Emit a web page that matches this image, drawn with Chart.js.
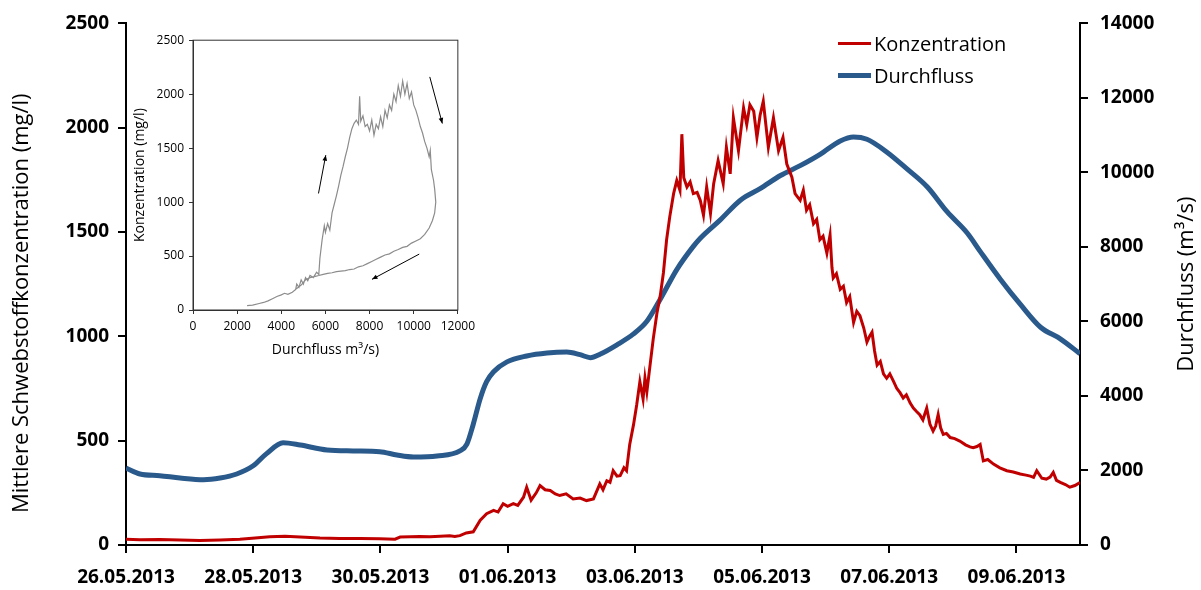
<!DOCTYPE html>
<html>
<head>
<meta charset="utf-8">
<script src="https://cdn.jsdelivr.net/npm/chart.js@4.4.0/dist/chart.umd.min.js"></script>
<style>
  body { margin: 0; background: #fff; }
  #wrap { position: relative; width: 1201px; height: 590px; }
  #mainChart { position: absolute; left: 0; top: 0; }
  #insetChart { position: absolute; left: 130px; top: 28px; }
  #legend { position: absolute; left: 838px; top: 27px; font-family: 'Open Sans', sans-serif; font-size: 20px; color: #000; }
  .item { display: flex; align-items: center; height: 32px; }
  .swatch { width: 33px; margin-right: 3px; }
</style>
</head>
<body>
<div id="wrap">
  <canvas id="mainChart" width="1201" height="590"></canvas>
  <canvas id="insetChart" width="350" height="335"></canvas>
  <div id="legend"></div>
</div>
<script>
// days since 26.05.2013 00:00
const concDays = [0, 0.22, 0.53, 0.85, 1.16, 1.48, 1.79, 2.03, 2.26, 2.5,
  2.74, 3.05, 3.36, 3.68, 3.99, 4.23, 4.31, 4.47, 4.62, 4.78,
  4.94, 5.09, 5.17, 5.25, 5.35, 5.46, 5.57, 5.67, 5.78, 5.85,
  5.93, 6.0, 6.09, 6.16, 6.25, 6.3, 6.37, 6.45, 6.51, 6.59,
  6.67, 6.75, 6.82, 6.92, 7.03, 7.14, 7.24, 7.35, 7.45, 7.5,
  7.56, 7.61, 7.66, 7.72, 7.77, 7.83, 7.87, 7.92, 7.98, 8.03,
  8.08, 8.13, 8.16, 8.19, 8.24, 8.29, 8.35, 8.4, 8.45, 8.5,
  8.55, 8.61, 8.66, 8.71, 8.74, 8.77, 8.82, 8.87, 8.92, 8.98,
  9.03, 9.08, 9.13, 9.19, 9.24, 9.31, 9.39, 9.44, 9.5, 9.55,
  9.63, 9.71, 9.76, 9.81, 9.87, 9.92, 9.97, 10.02, 10.1, 10.18,
  10.26, 10.33, 10.39, 10.47, 10.52, 10.6, 10.65, 10.7, 10.75, 10.81,
  10.86, 10.91, 10.96, 11.02, 11.07, 11.1, 11.12, 11.17, 11.23, 11.28,
  11.33, 11.38, 11.44, 11.49, 11.54, 11.6, 11.65, 11.69, 11.73, 11.77,
  11.81, 11.86, 11.91, 11.96, 12.01, 12.07, 12.12, 12.17, 12.22, 12.27,
  12.33, 12.38, 12.43, 12.48, 12.53, 12.59, 12.64, 12.69, 12.73, 12.77,
  12.81, 12.85, 12.9, 12.96, 13.03, 13.11, 13.2, 13.27, 13.32, 13.38,
  13.43, 13.48, 13.55, 13.64, 13.74, 13.85, 13.95, 14.06, 14.15, 14.22,
  14.27, 14.32, 14.4, 14.47, 14.53, 14.58, 14.63, 14.69, 14.77, 14.84,
  14.92, 15.0];
const concValues = [28, 25, 26, 24, 22, 24, 27, 33, 40, 42,
  38, 33, 31, 31, 30, 28, 38, 40, 41, 40,
  42, 44, 41, 45, 58, 63, 119, 150, 166, 158,
  198, 185, 198, 190, 229, 277, 215, 250, 285, 265,
  261, 245, 237, 245, 221, 225, 213, 221, 293, 265,
  308, 300, 356, 330, 332, 370, 356, 482, 577, 672,
  783, 700, 800, 735, 862, 988, 1115, 1194, 1305, 1463,
  1574, 1684, 1747, 1700, 1969, 1760, 1716, 1740, 1684, 1690,
  1652, 1581, 1716, 1589, 1732, 1842, 1732, 1906, 1779, 2048,
  1890, 2095, 2016, 2110, 2079, 1953, 2060, 2127, 1906, 2048,
  1890, 1953, 1826, 1763, 1684, 1652, 1700, 1605, 1630, 1540,
  1560, 1463, 1480, 1399, 1485, 1330, 1280, 1300, 1225, 1240,
  1162, 1190, 1067, 1120, 1099, 1040, 973, 1000, 1020, 930,
  862, 880, 820, 799, 820, 783, 750, 730, 704, 720,
  680, 656, 640, 625, 600, 656, 580, 546, 570, 625,
  560, 530, 535, 515, 510, 498, 480, 470, 466, 472,
  482, 403, 410, 388, 370, 356, 350, 340, 335, 330,
  324, 356, 320, 316, 325, 348, 310, 300, 290, 277,
  285, 300];

const flowDays = [0, 0.22, 0.53, 0.85, 1.22, 1.48, 1.74, 2.0, 2.21, 2.47, 2.74, 3.16, 3.57, 3.99, 4.26, 4.52, 4.89, 5.25, 5.36, 5.46,
  5.57, 5.67, 5.78, 5.99, 6.3, 6.62, 6.93, 7.14, 7.3, 7.46, 7.72, 7.98, 8.19, 8.4, 8.66, 8.92, 9.03, 9.34, 9.66, 9.97,
  10.29, 10.6, 10.92, 11.23, 11.44, 11.65, 11.97, 12.28, 12.6, 12.91, 13.23, 13.43, 13.75, 14.06, 14.38, 14.69, 15.0];
const flowValues = [2064, 1905, 1860, 1798, 1753, 1798, 1905, 2125, 2452, 2744, 2683, 2550, 2524, 2505, 2417, 2364, 2391, 2524, 2710, 3241,
  3932, 4383, 4649, 4915, 5074, 5154, 5180, 5108, 5029, 5127, 5374, 5666, 6004, 6596, 7393, 8015, 8235, 8721, 9253, 9563,
  9917, 10182, 10493, 10846, 10953, 10892, 10538, 10095, 9609, 8945, 8368, 7882, 7127, 6463, 5844, 5534, 5135];

// inset: concentration against discharge
const insetFlow = [2450, 2700, 3000, 3200, 3400, 3600, 3800, 4000, 4150, 4300, 4500, 4650, 4700, 4800, 4900, 5000, 5100, 5200, 5300, 5450,
  5600, 5700, 5750, 5850, 5950, 6000, 6100, 6200, 6300, 6400, 6500, 6600, 6700, 6800, 6900, 7000, 7100, 7200, 7300, 7400,
  7500, 7550, 7600, 7700, 7800, 7900, 8000, 8100, 8200, 8300, 8400, 8500, 8600, 8700, 8800, 8900, 9000, 9100, 9200, 9300,
  9400, 9500, 9600, 9700, 9800, 9900, 10000, 10100, 10200, 10300, 10400, 10500, 10600, 10700, 10750, 10800, 10900, 10950, 11000, 10950,
  10850, 10700, 10500, 10300, 10100, 9900, 9700, 9500, 9300, 9100, 8900, 8700, 8500, 8300, 8100, 7900, 7700, 7500, 7300, 7100,
  6900, 6700, 6500, 6300, 6100, 5900, 5700, 5500, 5300, 5100, 4900, 4700, 4600];
const insetConc = [40, 45, 60, 70, 85, 105, 125, 140, 155, 145, 165, 190, 240, 210, 280, 240, 300, 270, 320, 300,
  350, 330, 480, 650, 780, 720, 800, 740, 900, 980, 1060, 1150, 1250, 1330, 1420, 1500, 1600, 1680, 1730, 1760,
  1720, 1980, 1750, 1800, 1700, 1720, 1660, 1760, 1620, 1720, 1680, 1790, 1700, 1850, 1780, 1900, 1850, 2000, 1930, 2080,
  1980, 2120, 2000, 2100, 1960, 2020, 1900, 1850, 1780, 1700, 1640, 1560, 1500, 1420, 1480, 1300, 1200, 1120, 1000, 900,
  830, 760, 700, 660, 640, 620, 590, 580, 560, 545, 520, 510, 490, 470, 450, 430, 410, 400, 380, 375,
  365, 360, 355, 345, 340, 330, 320, 310, 300, 280, 230, 200, 180];

// inset arrows [flowFrom, concFrom, flowTo, concTo]
const insetArrows = [
  [5686, 1080, 6016, 1435],
  [10728, 2160, 11297, 1728],
  [10250, 518, 8110, 284]
];

const FONT = "'Open Sans', sans-serif";

function pad2(n) { return n < 10 ? '0' + n : '' + n; }
function fmtDate(v) {
  const d = new Date(2013, 4, 26 + v);
  return pad2(d.getDate()) + '.' + pad2(d.getMonth() + 1) + '.' + d.getFullYear();
}
const plainNum = v => String(v);

const axisTicks = { color: '#000', font: { family: FONT, size: 19, weight: 'bold' } };
const axisGrid = { drawOnChartArea: false, color: '#000', lineWidth: 2, tickLength: 8 };
const axisBorder = { color: '#000', width: 2 };

// both y titles read bottom-to-top, so draw them by hand
const axisTitles = {
  id: 'axisTitles',
  afterDraw(chart) {
    const c = chart.ctx;
    const area = chart.chartArea;
    const put = (text, x, y) => {
      c.save();
      c.translate(x, y);
      c.rotate(-Math.PI / 2);
      c.fillStyle = '#000';
      c.font = '22px ' + FONT;
      c.textAlign = 'center';
      c.textBaseline = 'middle';
      c.fillText(text, 0, 0);
      c.restore();
    };
    put('Mittlere Schwebstoffkonzentration (mg/l)', 22, (area.top + area.bottom) / 2 + 19);
    put('Durchfluss (m³/s)', 1187, (area.top + area.bottom) / 2);
  }
};

const mainChart = new Chart(document.getElementById('mainChart'), {
  type: 'line',
  data: {
    datasets: [
      {
        label: 'Konzentration',
        data: concDays.map((d, i) => ({ x: d, y: concValues[i] })),
        borderColor: '#C00000',
        borderWidth: 3,
        pointRadius: 0,
        tension: 0,
        yAxisID: 'y'
      },
      {
        label: 'Durchfluss',
        data: flowDays.map((d, i) => ({ x: d, y: flowValues[i] })),
        borderColor: '#2A5A8C',
        borderWidth: 5,
        pointRadius: 0,
        cubicInterpolationMode: 'monotone',
        yAxisID: 'y1'
      }
    ]
  },
  options: {
    responsive: false,
    animation: false,
    layout: { padding: { top: 18 } },
    plugins: { legend: { display: false }, tooltip: { enabled: false } },
    scales: {
      x: {
        type: 'linear',
        min: 0,
        max: 15,
        afterBuildTicks: s => { s.ticks = s.ticks.filter(t => t.value % 2 === 0); },
        afterFit: s => { s.height = 45; },
        ticks: { ...axisTicks, stepSize: 2, padding: 13, maxRotation: 0, autoSkip: false, callback: v => fmtDate(v) },
        grid: axisGrid,
        border: axisBorder
      },
      y: {
        position: 'left',
        min: 0,
        max: 2500,
        afterFit: s => { s.width = 126; },
        ticks: { ...axisTicks, stepSize: 500, padding: 9, callback: plainNum },
        grid: axisGrid,
        border: axisBorder
      },
      y1: {
        position: 'right',
        min: 0,
        max: 14000,
        afterFit: s => { s.width = 121; },
        ticks: { ...axisTicks, stepSize: 2000, padding: 12, callback: plainNum },
        grid: axisGrid,
        border: axisBorder
      }
    }
  },
  plugins: [axisTitles]
});

// legend from the dataset labels
const legendEl = document.getElementById('legend');
mainChart.data.datasets.forEach(ds => {
  const row = document.createElement('div');
  row.className = 'item';
  const sw = document.createElement('div');
  sw.className = 'swatch';
  sw.style.height = ds.borderWidth + 'px';
  sw.style.background = ds.borderColor;
  const txt = document.createElement('span');
  txt.textContent = ds.label;
  row.appendChild(sw);
  row.appendChild(txt);
  legendEl.appendChild(row);
});

const insetDecor = {
  id: 'insetDecor',
  afterDraw(chart) {
    const c = chart.ctx;
    const a = chart.chartArea;
    const xs = chart.scales.x, ys = chart.scales.y;
    c.save();
    c.strokeStyle = '#333';
    c.lineWidth = 1;
    c.strokeRect(a.left, a.top, a.right - a.left, a.bottom - a.top);
    c.fillStyle = '#000';
    c.strokeStyle = '#000';
    insetArrows.forEach(([fx, fy, tx, ty]) => {
      const x1 = xs.getPixelForValue(fx), y1 = ys.getPixelForValue(fy);
      const x2 = xs.getPixelForValue(tx), y2 = ys.getPixelForValue(ty);
      const ang = Math.atan2(y2 - y1, x2 - x1);
      c.beginPath();
      c.moveTo(x1, y1);
      c.lineTo(x2, y2);
      c.stroke();
      c.beginPath();
      c.moveTo(x2, y2);
      c.lineTo(x2 - 6 * Math.cos(ang - 0.4), y2 - 6 * Math.sin(ang - 0.4));
      c.lineTo(x2 - 6 * Math.cos(ang + 0.4), y2 - 6 * Math.sin(ang + 0.4));
      c.closePath();
      c.fill();
    });
    c.restore();
  }
};

const insetTicks = { color: '#000', font: { family: FONT, size: 12 }, callback: plainNum };
const insetGrid = { drawOnChartArea: false, color: '#333', lineWidth: 1, tickLength: 4 };

new Chart(document.getElementById('insetChart'), {
  type: 'line',
  data: {
    datasets: [{
      data: insetFlow.map((q, i) => ({ x: q, y: insetConc[i] })),
      borderColor: '#8C8C8C',
      borderWidth: 1.2,
      pointRadius: 0,
      tension: 0
    }]
  },
  options: {
    responsive: false,
    animation: false,
    layout: { padding: { top: 12, right: 19 } },
    plugins: { legend: { display: false }, tooltip: { enabled: false } },
    scales: {
      x: {
        type: 'linear',
        min: 0,
        max: 12000,
        afterFit: s => { s.height = 53; },
        ticks: { ...insetTicks, stepSize: 2000, padding: 5, maxRotation: 0, autoSkip: false },
        grid: insetGrid,
        border: { color: '#333', width: 1 },
        title: { display: true, text: 'Durchfluss m³/s)', color: '#000', font: { family: FONT, size: 14 }, padding: { top: 0, bottom: 5 } }
      },
      y: {
        min: 0,
        max: 2500,
        afterFit: s => { s.width = 63; },
        ticks: { ...insetTicks, stepSize: 500, padding: 5 },
        grid: insetGrid,
        border: { color: '#333', width: 1 },
        title: { display: true, text: 'Konzentration (mg/l)', color: '#000', font: { family: FONT, size: 14 }, padding: { top: 2, bottom: 0 } }
      }
    }
  },
  plugins: [insetDecor]
});
</script>
</body>
</html>
